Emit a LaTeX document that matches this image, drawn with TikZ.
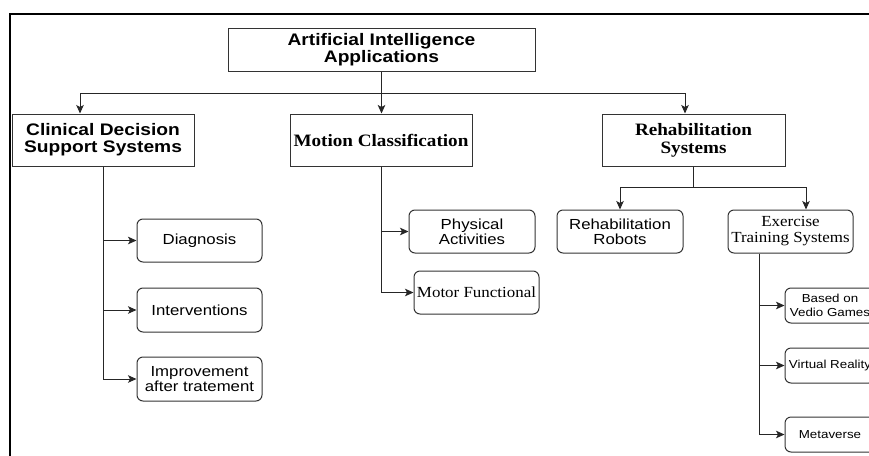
\documentclass[tikz,border=0pt]{standalone}
\usepackage{fontspec}
\usetikzlibrary{arrows.meta,calc}
\newfontfamily\sansX{Liberation Sans}[FakeStretch=1.15]
\newfontfamily\serifX{Liberation Serif}[FakeStretch=1.1]
\tikzset{
  box/.style={draw=black!80, line width=1pt, minimum width=#1, inner sep=1pt, align=center},
  rbox/.style={box=#1, rounded corners=6pt},
  hsans/.style={font=\sansX\bfseries\fontsize{16.7}{17}\selectfont},
  hserif/.style={font=\serifX\bfseries\fontsize{17.4}{18}\selectfont},
  nsans/.style={font=\sansX\fontsize{14.6}{15}\selectfont},
  nserif/.style={font=\serifX\fontsize{15.4}{16}\selectfont},
  ssans/.style={font=\sansX\fontsize{11.6}{14}\selectfont},
  arr/.style={draw=black!85, line width=1pt, -{Stealth[length=8.5pt,width=7.5pt,inset=2pt]}},
  ln/.style={draw=black!85, line width=1pt},
}
\begin{document}
\begin{tikzpicture}[x=1pt,y=-1pt]
\useasboundingbox (0,0) rectangle (869,455);
\clip (0,0) rectangle (869,455);
% frame
\draw[line width=2.5pt] (10,456) -- (10,14) -- (870,14);
% nodes
\node[box=307pt, minimum height=43pt, hsans] (top) at (381.5,49.5) {Artificial Intelligence\\Applications};
\node[box=182pt, minimum height=52pt, hsans] (cds) at (103,140) {Clinical Decision\\Support Systems};
\node[box=182pt, minimum height=52pt, hserif] (mc) at (381,140) {Motion Classification};
\node[box=183pt, minimum height=52pt, hserif] (rs) at (693.5,140) {Rehabilitation\\Systems};
\node[rbox=125pt, minimum height=43pt, nsans] (diag) at (199.5,240.5) {Diagnosis};
\node[rbox=125pt, minimum height=44pt, nsans] (interv) at (199.5,310) {Interventions};
\node[rbox=125pt, minimum height=44pt, nsans] (impr) at (199.5,379) {Improvement\\after tratement};
\node[rbox=126pt, minimum height=43pt, nsans] (phys) at (472,231.5) {Physical\\Activities};
\node[rbox=125pt, minimum height=43pt, nserif] (motor) at (476.5,292.5) {Motor Functional};
\node[rbox=126pt, minimum height=43pt, nsans] (robots) at (620,231.5) {Rehabilitation\\Robots};
\node[rbox=125pt, minimum height=43pt, nserif] (ets) at (790.5,231.5) {Exercise\\Training Systems};
\node[rbox=90pt, minimum height=35pt, ssans] (games) at (830,305.5) {Based on\\Vedio Games};
\node[rbox=90pt, minimum height=35pt, ssans] (vr) at (830,365.5) {Virtual Reality};
\node[rbox=90pt, minimum height=35pt, ssans] (meta) at (830,434.5) {Metaverse};
% top level connectors
\coordinate (j) at ($(top.south)+(0,22)$);
\draw[arr] (top.south) -- (top.south |- mc.north);
\draw[arr] (j) -| ([xshift=-23pt]cds.north);
\draw[arr] (j) -| ([xshift=-8.5pt]rs.north);
% clinical
\draw[arr] (cds.south) |- (impr.west);
\draw[arr] (cds.south |- diag.west) -- (diag.west);
\draw[arr] (cds.south |- interv.west) -- (interv.west);
% motion
\draw[arr] (mc.south) |- (motor.west);
\draw[arr] (mc.south |- phys.west) -- (phys.west);
% rehab
\coordinate (rj) at ($(rs.south)+(0,21)$);
\draw[ln] (rs.south) -- (rj);
\draw[arr] (rj) -| (robots.north);
\draw[arr] (rj) -| ([xshift=15.5pt]ets.north);
% exercise
\coordinate (ev) at ([xshift=-31.5pt]ets.south);
\draw[arr] (ev) |- (meta.west);
\draw[arr] (ev |- games.west) -- (games.west);
\draw[arr] (ev |- vr.west) -- (vr.west);
\end{tikzpicture}
\end{document}
